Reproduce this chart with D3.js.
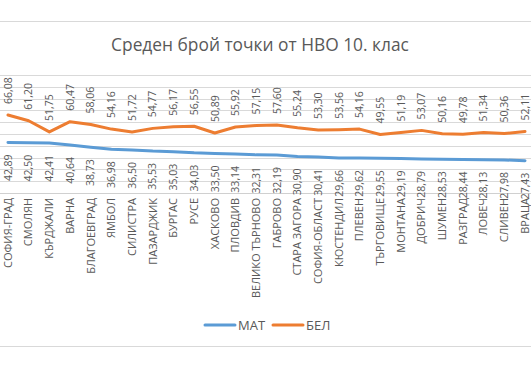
<!DOCTYPE html>
<html>
<head>
<meta charset="utf-8">
<script src="https://cdn.jsdelivr.net/npm/d3@7"></script>
<style>
  html, body { margin: 0; padding: 0; background: #fff; }
  text { font-family: "Open Sans", "Liberation Sans", sans-serif; fill: #595959; }
</style>
</head>
<body>
<div id="chart"></div>
<script>
// data
const regions = ["СОФИЯ-ГРАД", "СМОЛЯН", "КЪРДЖАЛИ", "ВАРНА", "БЛАГОЕВГРАД", "ЯМБОЛ",
  "СИЛИСТРА", "ПАЗАРДЖИК", "БУРГАС", "РУСЕ", "ХАСКОВО", "ПЛОВДИВ", "ВЕЛИКО ТЪРНОВО",
  "ГАБРОВО", "СТАРА ЗАГОРА", "СОФИЯ-ОБЛАСТ", "КЮСТЕНДИЛ", "ПЛЕВЕН", "ТЪРГОВИЩЕ",
  "МОНТАНА", "ДОБРИЧ", "ШУМЕН", "РАЗГРАД", "ЛОВЕЧ", "СЛИВЕН", "ВРАЦА"];
const mat = [42.89, 42.50, 42.41, 40.64, 38.73, 36.98, 36.50, 35.53, 35.03, 34.03, 33.50,
  33.14, 32.31, 32.19, 30.90, 30.41, 29.66, 29.62, 29.55, 29.19, 28.79, 28.53, 28.44,
  28.13, 27.98, 27.43];
const bel = [66.08, 61.20, 51.75, 60.47, 58.06, 54.16, 51.72, 54.77, 56.17, 56.55, 50.89,
  55.92, 57.15, 57.60, 55.24, 53.30, 53.56, 54.16, 49.55, 51.19, 53.07, 50.16, 49.78,
  51.34, 50.36, 52.11];
const yTicks = [0, 10, 20, 30, 40, 50, 60, 70, 80, 90, 100];
const seriesNames = ["МАТ", "БЕЛ"];
const colors = ["#5B9BD5", "#ED7D31"];

const width = 531, height = 371;
const svg = d3.select("#chart").append("svg")
  .attr("width", width).attr("height", height);

// chart frame (cropped on the sides)
svg.append("line").attr("x1", 0).attr("x2", width).attr("y1", 21.5).attr("y2", 21.5)
  .attr("stroke", "#d9d9d9");
svg.append("line").attr("x1", 0).attr("x2", width).attr("y1", 346.5).attr("y2", 346.5)
  .attr("stroke", "#d9d9d9");

const x = d3.scalePoint().domain(regions).range([8, 525]);
const y = d3.scaleLinear().domain([0, 100]).range([193, 75]);

// gridlines
svg.append("g").selectAll("line")
  .data(yTicks)
  .join("line")
  .attr("x1", 0).attr("x2", width)
  .attr("y1", d => Math.round(y(d)) + 0.5)
  .attr("y2", d => Math.round(y(d)) + 0.5)
  .attr("stroke", d => d === 0 ? "#d0d0d0" : "#d9d9d9")
  .attr("stroke-width", 1);

// title
const title = svg.append("text")
  .attr("x", 260).attr("y", 51)
  .attr("text-anchor", "middle")
  .style("font-size", "17px")
  .text("Среден брой точки от НВО 10. клас");
const tw = title.node().getComputedTextLength();
title.style("font-size", (17 * 298 / tw) + "px");

// lines
const line = d3.line().x((d, i) => x(regions[i])).y(d => y(d));
[mat, bel].forEach((vals, k) => {
  svg.append("path")
    .datum(vals)
    .attr("fill", "none")
    .attr("stroke", colors[k])
    .attr("stroke-width", 3)
    .attr("stroke-linejoin", "round")
    .attr("stroke-linecap", "round")
    .attr("d", line);
});

const fmt = v => v.toFixed(2).replace(".", ",");
const labelSize = "10.5px";

// БЕЛ labels above the points
svg.append("g").selectAll("text")
  .data(bel)
  .join("text")
  .attr("transform", (d, i) => `translate(${x(regions[i]) + 3.7},${y(d) - 11}) rotate(-90)`)
  .attr("text-anchor", "start")
  .style("font-size", labelSize)
  .text(fmt);

// МАТ labels below the points
svg.append("g").selectAll("text")
  .data(mat)
  .join("text")
  .attr("transform", (d, i) => `translate(${x(regions[i]) + 3.7},${y(d) + 12}) rotate(-90)`)
  .attr("text-anchor", "end")
  .style("font-size", labelSize)
  .text(fmt);

// category labels
svg.append("g").selectAll("text")
  .data(regions)
  .join("text")
  .attr("transform", d => `translate(${x(d) + 3.8},198) rotate(-90)`)
  .attr("text-anchor", "end")
  .style("font-size", "11px")
  .text(d => d);

// legend
const legend = svg.append("g");
const legendX = [205, 273];
seriesNames.forEach((name, k) => {
  legend.append("line")
    .attr("x1", legendX[k]).attr("x2", legendX[k] + 30)
    .attr("y1", 325).attr("y2", 325)
    .attr("stroke", colors[k]).attr("stroke-width", 3)
    .attr("stroke-linecap", "round");
  legend.append("text")
    .attr("x", legendX[k] + 33).attr("y", 330)
    .style("font-size", "13px")
    .text(name);
});
</script>
</body>
</html>
